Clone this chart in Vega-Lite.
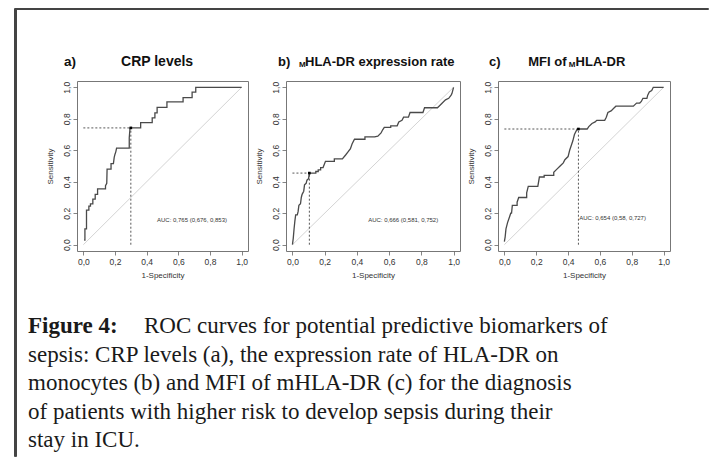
{
  "$schema": "https://vega.github.io/schema/vega-lite/v6.json",
  "background": "white",
  "padding": {"left": 13, "top": 7, "right": 0, "bottom": 0},
  "autosize": {"type": "pad"},
  "config": {
    "view": {"stroke": null},
    "axis": {"grid": false, "domain": false, "tickColor": "#666", "tickSize": 4, "tickWidth": 0.8, "labelFont": "Liberation Sans", "labelFontSize": 8.5, "labelColor": "#333", "labelPadding": 2, "titleFont": "Liberation Sans", "titleFontSize": 8, "titleFontWeight": "normal", "titleColor": "#333"},
    "axisX": {"titlePadding": 6},
    "axisY": {"labelAngle": 270, "labelAlign": "center", "labelBaseline": "bottom", "titlePadding": 8}
  },
  "datasets": {
    "diag": [{"fpr": 0, "sens": 0}, {"fpr": 1, "sens": 1}],
    "thr": [
      {"panel": "a", "fpr": 0.30, "sens": 0.742, "auc": "AUC: 0,765 (0,676, 0,853)"},
      {"panel": "b", "fpr": 0.105, "sens": 0.455, "auc": "AUC: 0,666 (0,581, 0,752)"},
      {"panel": "c", "fpr": 0.465, "sens": 0.735, "auc": "AUC: 0,654 (0,58, 0,727)"}
    ],
    "a": [
      {"i": 0, "fpr": 0.005, "sens": 0.03}, {"i": 1, "fpr": 0.01, "sens": 0.03}, {"i": 2, "fpr": 0.01, "sens": 0.10},
      {"i": 3, "fpr": 0.02, "sens": 0.10}, {"i": 4, "fpr": 0.02, "sens": 0.22}, {"i": 5, "fpr": 0.035, "sens": 0.22},
      {"i": 6, "fpr": 0.035, "sens": 0.245}, {"i": 7, "fpr": 0.045, "sens": 0.245}, {"i": 8, "fpr": 0.045, "sens": 0.26},
      {"i": 9, "fpr": 0.06, "sens": 0.26}, {"i": 10, "fpr": 0.06, "sens": 0.29}, {"i": 11, "fpr": 0.075, "sens": 0.29},
      {"i": 12, "fpr": 0.075, "sens": 0.32}, {"i": 13, "fpr": 0.09, "sens": 0.32}, {"i": 14, "fpr": 0.09, "sens": 0.355},
      {"i": 15, "fpr": 0.14, "sens": 0.355}, {"i": 16, "fpr": 0.14, "sens": 0.375}, {"i": 17, "fpr": 0.148, "sens": 0.39},
      {"i": 18, "fpr": 0.15, "sens": 0.48}, {"i": 19, "fpr": 0.175, "sens": 0.48}, {"i": 20, "fpr": 0.175, "sens": 0.515},
      {"i": 21, "fpr": 0.19, "sens": 0.515}, {"i": 22, "fpr": 0.195, "sens": 0.555}, {"i": 23, "fpr": 0.20, "sens": 0.575},
      {"i": 24, "fpr": 0.205, "sens": 0.59}, {"i": 25, "fpr": 0.21, "sens": 0.613}, {"i": 26, "fpr": 0.29, "sens": 0.613},
      {"i": 27, "fpr": 0.29, "sens": 0.68}, {"i": 28, "fpr": 0.295, "sens": 0.742}, {"i": 29, "fpr": 0.362, "sens": 0.742},
      {"i": 30, "fpr": 0.362, "sens": 0.775}, {"i": 31, "fpr": 0.435, "sens": 0.775}, {"i": 32, "fpr": 0.435, "sens": 0.806},
      {"i": 33, "fpr": 0.452, "sens": 0.806}, {"i": 34, "fpr": 0.452, "sens": 0.837}, {"i": 35, "fpr": 0.466, "sens": 0.837},
      {"i": 36, "fpr": 0.466, "sens": 0.872}, {"i": 37, "fpr": 0.528, "sens": 0.872}, {"i": 38, "fpr": 0.528, "sens": 0.907},
      {"i": 39, "fpr": 0.63, "sens": 0.907}, {"i": 40, "fpr": 0.63, "sens": 0.934}, {"i": 41, "fpr": 0.687, "sens": 0.934},
      {"i": 42, "fpr": 0.687, "sens": 0.969}, {"i": 43, "fpr": 0.71, "sens": 0.969}, {"i": 44, "fpr": 0.71, "sens": 1.0},
      {"i": 45, "fpr": 1.0, "sens": 1.0}
    ],
    "b": [
      {"i": 0, "fpr": 0.0, "sens": 0.0}, {"i": 1, "fpr": 0.005, "sens": 0.04}, {"i": 2, "fpr": 0.01, "sens": 0.10},
      {"i": 3, "fpr": 0.015, "sens": 0.15}, {"i": 4, "fpr": 0.02, "sens": 0.19}, {"i": 5, "fpr": 0.03, "sens": 0.19},
      {"i": 6, "fpr": 0.035, "sens": 0.21}, {"i": 7, "fpr": 0.04, "sens": 0.25}, {"i": 8, "fpr": 0.05, "sens": 0.26},
      {"i": 9, "fpr": 0.055, "sens": 0.30}, {"i": 10, "fpr": 0.06, "sens": 0.32}, {"i": 11, "fpr": 0.07, "sens": 0.34},
      {"i": 12, "fpr": 0.075, "sens": 0.38}, {"i": 13, "fpr": 0.085, "sens": 0.39}, {"i": 14, "fpr": 0.09, "sens": 0.41},
      {"i": 15, "fpr": 0.10, "sens": 0.42}, {"i": 16, "fpr": 0.105, "sens": 0.455}, {"i": 17, "fpr": 0.145, "sens": 0.455},
      {"i": 18, "fpr": 0.145, "sens": 0.465}, {"i": 19, "fpr": 0.16, "sens": 0.465}, {"i": 20, "fpr": 0.16, "sens": 0.475},
      {"i": 21, "fpr": 0.175, "sens": 0.475}, {"i": 22, "fpr": 0.175, "sens": 0.49}, {"i": 23, "fpr": 0.19, "sens": 0.49},
      {"i": 24, "fpr": 0.205, "sens": 0.53}, {"i": 25, "fpr": 0.26, "sens": 0.53}, {"i": 26, "fpr": 0.26, "sens": 0.545},
      {"i": 27, "fpr": 0.31, "sens": 0.545}, {"i": 28, "fpr": 0.33, "sens": 0.57}, {"i": 29, "fpr": 0.345, "sens": 0.59},
      {"i": 30, "fpr": 0.36, "sens": 0.61}, {"i": 31, "fpr": 0.37, "sens": 0.64}, {"i": 32, "fpr": 0.385, "sens": 0.67},
      {"i": 33, "fpr": 0.45, "sens": 0.67}, {"i": 34, "fpr": 0.45, "sens": 0.685}, {"i": 35, "fpr": 0.51, "sens": 0.685},
      {"i": 36, "fpr": 0.53, "sens": 0.69}, {"i": 37, "fpr": 0.55, "sens": 0.71}, {"i": 38, "fpr": 0.56, "sens": 0.73},
      {"i": 39, "fpr": 0.57, "sens": 0.745}, {"i": 40, "fpr": 0.61, "sens": 0.745}, {"i": 41, "fpr": 0.61, "sens": 0.755},
      {"i": 42, "fpr": 0.65, "sens": 0.755}, {"i": 43, "fpr": 0.66, "sens": 0.78}, {"i": 44, "fpr": 0.68, "sens": 0.79},
      {"i": 45, "fpr": 0.69, "sens": 0.81}, {"i": 46, "fpr": 0.72, "sens": 0.81}, {"i": 47, "fpr": 0.73, "sens": 0.84},
      {"i": 48, "fpr": 0.81, "sens": 0.84}, {"i": 49, "fpr": 0.82, "sens": 0.87}, {"i": 50, "fpr": 0.90, "sens": 0.87},
      {"i": 51, "fpr": 0.91, "sens": 0.88}, {"i": 52, "fpr": 0.93, "sens": 0.90}, {"i": 53, "fpr": 0.95, "sens": 0.92},
      {"i": 54, "fpr": 0.97, "sens": 0.93}, {"i": 55, "fpr": 0.985, "sens": 0.95}, {"i": 56, "fpr": 0.99, "sens": 0.96},
      {"i": 57, "fpr": 1.0, "sens": 1.0}
    ],
    "c": [
      {"i": 0, "fpr": 0.0, "sens": 0.02}, {"i": 1, "fpr": 0.005, "sens": 0.05}, {"i": 2, "fpr": 0.01, "sens": 0.10},
      {"i": 3, "fpr": 0.02, "sens": 0.14}, {"i": 4, "fpr": 0.03, "sens": 0.17}, {"i": 5, "fpr": 0.04, "sens": 0.20},
      {"i": 6, "fpr": 0.045, "sens": 0.20}, {"i": 7, "fpr": 0.05, "sens": 0.25}, {"i": 8, "fpr": 0.08, "sens": 0.25},
      {"i": 9, "fpr": 0.08, "sens": 0.27}, {"i": 10, "fpr": 0.09, "sens": 0.30}, {"i": 11, "fpr": 0.14, "sens": 0.30},
      {"i": 12, "fpr": 0.14, "sens": 0.33}, {"i": 13, "fpr": 0.15, "sens": 0.37}, {"i": 14, "fpr": 0.21, "sens": 0.37},
      {"i": 15, "fpr": 0.22, "sens": 0.43}, {"i": 16, "fpr": 0.25, "sens": 0.43}, {"i": 17, "fpr": 0.25, "sens": 0.44},
      {"i": 18, "fpr": 0.31, "sens": 0.44}, {"i": 19, "fpr": 0.31, "sens": 0.46}, {"i": 20, "fpr": 0.33, "sens": 0.48},
      {"i": 21, "fpr": 0.35, "sens": 0.50}, {"i": 22, "fpr": 0.37, "sens": 0.52}, {"i": 23, "fpr": 0.38, "sens": 0.54},
      {"i": 24, "fpr": 0.40, "sens": 0.56}, {"i": 25, "fpr": 0.41, "sens": 0.60}, {"i": 26, "fpr": 0.42, "sens": 0.63},
      {"i": 27, "fpr": 0.43, "sens": 0.66}, {"i": 28, "fpr": 0.44, "sens": 0.70}, {"i": 29, "fpr": 0.455, "sens": 0.73},
      {"i": 30, "fpr": 0.465, "sens": 0.735}, {"i": 31, "fpr": 0.52, "sens": 0.735}, {"i": 32, "fpr": 0.53, "sens": 0.75},
      {"i": 33, "fpr": 0.55, "sens": 0.77}, {"i": 34, "fpr": 0.57, "sens": 0.78}, {"i": 35, "fpr": 0.58, "sens": 0.79},
      {"i": 36, "fpr": 0.63, "sens": 0.79}, {"i": 37, "fpr": 0.64, "sens": 0.81}, {"i": 38, "fpr": 0.65, "sens": 0.84},
      {"i": 39, "fpr": 0.67, "sens": 0.85}, {"i": 40, "fpr": 0.69, "sens": 0.87}, {"i": 41, "fpr": 0.70, "sens": 0.88},
      {"i": 42, "fpr": 0.81, "sens": 0.88}, {"i": 43, "fpr": 0.82, "sens": 0.89}, {"i": 44, "fpr": 0.83, "sens": 0.90},
      {"i": 45, "fpr": 0.85, "sens": 0.90}, {"i": 46, "fpr": 0.86, "sens": 0.91}, {"i": 47, "fpr": 0.87, "sens": 0.93},
      {"i": 48, "fpr": 0.895, "sens": 0.93}, {"i": 49, "fpr": 0.90, "sens": 0.95}, {"i": 50, "fpr": 0.91, "sens": 0.97},
      {"i": 51, "fpr": 0.925, "sens": 0.98}, {"i": 52, "fpr": 0.935, "sens": 1.0}, {"i": 53, "fpr": 1.0, "sens": 1.0}
    ],
    "caption": [
      {"line": 1, "part": "label", "text": "Figure 4:"},
      {"line": 1, "part": "first", "text": "ROC curves for potential predictive biomarkers of"},
      {"line": 2, "part": "body", "text": "sepsis: CRP levels (a), the expression rate of HLA-DR on"},
      {"line": 3, "part": "body", "text": "monocytes (b) and MFI of mHLA-DR (c) for the diagnosis"},
      {"line": 4, "part": "body", "text": "of patients with higher risk to develop sepsis during their"},
      {"line": 5, "part": "body", "text": "stay in ICU."}
    ]
  },
  "spacing": 0,
  "bounds": "flush",
  "hconcat": [
    {"data": {"values": [{}]}, "mark": {"type": "text", "text": "", "fontSize": 0}, "width": 1, "height": 448, "view": {"stroke": "#444", "strokeWidth": 1}},
    {
      "spacing": 0,
      "bounds": "flush",
      "vconcat": [
        {"data": {"values": [{}]}, "mark": {"type": "text", "text": "", "fontSize": 0}, "width": 693, "height": 1, "view": {"stroke": "#444", "strokeWidth": 1}},
        {"data": {"values": [{}]}, "mark": {"type": "text", "text": "", "fontSize": 0}, "width": 10, "height": 72},
        {
          "spacing": 38,
          "bounds": "flush",
          "hconcat": [
            {"data": {"values": [{}]}, "mark": {"type": "text", "text": "", "fontSize": 0}, "width": 24, "height": 170},
            {
              "width": 171, "height": 170,
              "view": {"stroke": "#777", "strokeWidth": 1},
              "data": {"name": "a"},
              "encoding": {
                "x": {"field": "fpr", "type": "quantitative", "scale": {"domain": [-0.04, 1.04], "nice": false, "zero": false}, "axis": {"title": "1-Specificity", "values": [0, 0.2, 0.4, 0.6, 0.8, 1], "labelExpr": "replace(format(datum.value, '.1f'), '.', ',')"}},
                "y": {"field": "sens", "type": "quantitative", "scale": {"domain": [-0.04, 1.04], "nice": false, "zero": false}, "axis": {"title": "Sensitivity", "values": [0, 0.2, 0.4, 0.6, 0.8, 1], "labelExpr": "replace(format(datum.value, '.1f'), '.', ',')"}}
              },
              "layer": [
                {"data": {"name": "diag"}, "mark": {"type": "line", "color": "#d4d4d4", "strokeWidth": 1}},
                {"mark": {"type": "line", "color": "#4a4a4a", "strokeWidth": 1.3}, "encoding": {"order": {"field": "i", "type": "quantitative"}}},
                {"data": {"name": "thr"}, "transform": [{"filter": "datum.panel == 'a'"}], "mark": {"type": "rule", "color": "#444", "strokeWidth": 0.9, "strokeDash": [2, 2]}, "encoding": {"x": {"datum": 0, "type": "quantitative"}, "x2": {"field": "fpr"}}},
                {"data": {"name": "thr"}, "transform": [{"filter": "datum.panel == 'a'"}], "mark": {"type": "rule", "color": "#444", "strokeWidth": 0.9, "strokeDash": [2, 2]}, "encoding": {"y": {"datum": 0, "type": "quantitative"}, "y2": {"field": "sens"}}},
                {"data": {"name": "thr"}, "transform": [{"filter": "datum.panel == 'a'"}], "mark": {"type": "square", "color": "#000", "size": 7, "opacity": 1}},
                {"data": {"name": "thr"}, "transform": [{"filter": "datum.panel == 'a'"}], "mark": {"type": "text", "align": "left", "baseline": "middle", "font": "Liberation Sans", "fontSize": 6, "color": "#333"}, "encoding": {"x": {"datum": 0.465, "type": "quantitative"}, "y": {"datum": 0.155, "type": "quantitative"}, "text": {"field": "auc"}}},
                {"data": {"name": "thr"}, "transform": [{"filter": "datum.panel == 'a'"}], "mark": {"type": "text", "text": "a)", "align": "left", "baseline": "middle", "font": "Liberation Sans", "fontSize": 13.5, "fontWeight": "bold", "color": "#111"}, "encoding": {"x": {"datum": -0.122, "type": "quantitative"}, "y": {"datum": 1.163, "type": "quantitative"}}},
                {"data": {"name": "thr"}, "transform": [{"filter": "datum.panel == 'a'"}], "mark": {"type": "text", "text": "CRP levels", "align": "left", "baseline": "middle", "font": "Liberation Sans", "fontSize": 14, "fontWeight": "bold", "color": "#111"}, "encoding": {"x": {"datum": 0.238, "type": "quantitative"}, "y": {"datum": 1.163, "type": "quantitative"}}}
              ]
            },
            {
              "width": 174, "height": 170,
              "view": {"stroke": "#777", "strokeWidth": 1},
              "data": {"name": "b"},
              "encoding": {
                "x": {"field": "fpr", "type": "quantitative", "scale": {"domain": [-0.04, 1.04], "nice": false, "zero": false}, "axis": {"title": "1-Specificity", "values": [0, 0.2, 0.4, 0.6, 0.8, 1], "labelExpr": "replace(format(datum.value, '.1f'), '.', ',')"}},
                "y": {"field": "sens", "type": "quantitative", "scale": {"domain": [-0.04, 1.04], "nice": false, "zero": false}, "axis": {"title": "Sensitivity", "values": [0, 0.2, 0.4, 0.6, 0.8, 1], "labelExpr": "replace(format(datum.value, '.1f'), '.', ',')"}}
              },
              "layer": [
                {"data": {"name": "diag"}, "mark": {"type": "line", "color": "#d4d4d4", "strokeWidth": 1}},
                {"mark": {"type": "line", "color": "#4a4a4a", "strokeWidth": 1.3}, "encoding": {"order": {"field": "i", "type": "quantitative"}}},
                {"data": {"name": "thr"}, "transform": [{"filter": "datum.panel == 'b'"}], "mark": {"type": "rule", "color": "#444", "strokeWidth": 0.9, "strokeDash": [2, 2]}, "encoding": {"x": {"datum": 0, "type": "quantitative"}, "x2": {"field": "fpr"}}},
                {"data": {"name": "thr"}, "transform": [{"filter": "datum.panel == 'b'"}], "mark": {"type": "rule", "color": "#444", "strokeWidth": 0.9, "strokeDash": [2, 2]}, "encoding": {"y": {"datum": 0, "type": "quantitative"}, "y2": {"field": "sens"}}},
                {"data": {"name": "thr"}, "transform": [{"filter": "datum.panel == 'b'"}], "mark": {"type": "square", "color": "#000", "size": 7, "opacity": 1}},
                {"data": {"name": "thr"}, "transform": [{"filter": "datum.panel == 'b'"}], "mark": {"type": "text", "align": "left", "baseline": "middle", "font": "Liberation Sans", "fontSize": 6, "color": "#333"}, "encoding": {"x": {"datum": 0.47, "type": "quantitative"}, "y": {"datum": 0.155, "type": "quantitative"}, "text": {"field": "auc"}}},
                {"data": {"name": "thr"}, "transform": [{"filter": "datum.panel == 'b'"}], "mark": {"type": "text", "text": "b)", "align": "left", "baseline": "middle", "font": "Liberation Sans", "fontSize": 13, "fontWeight": "bold", "color": "#111"}, "encoding": {"x": {"datum": -0.09, "type": "quantitative"}, "y": {"datum": 1.163, "type": "quantitative"}}},
                {"data": {"name": "thr"}, "transform": [{"filter": "datum.panel == 'b'"}], "mark": {"type": "text", "text": "M", "align": "left", "baseline": "middle", "font": "Liberation Sans", "fontSize": 8, "fontWeight": "bold", "color": "#111"}, "encoding": {"x": {"datum": 0.041, "type": "quantitative"}, "y": {"datum": 1.14, "type": "quantitative"}}},
                {"data": {"name": "thr"}, "transform": [{"filter": "datum.panel == 'b'"}], "mark": {"type": "text", "text": "HLA-DR expression rate", "align": "left", "baseline": "middle", "font": "Liberation Sans", "fontSize": 13, "fontWeight": "bold", "color": "#111"}, "encoding": {"x": {"datum": 0.078, "type": "quantitative"}, "y": {"datum": 1.163, "type": "quantitative"}}}
              ]
            },
            {
              "width": 172, "height": 170,
              "view": {"stroke": "#777", "strokeWidth": 1},
              "data": {"name": "c"},
              "encoding": {
                "x": {"field": "fpr", "type": "quantitative", "scale": {"domain": [-0.04, 1.04], "nice": false, "zero": false}, "axis": {"title": "1-Specificity", "values": [0, 0.2, 0.4, 0.6, 0.8, 1], "labelExpr": "replace(format(datum.value, '.1f'), '.', ',')"}},
                "y": {"field": "sens", "type": "quantitative", "scale": {"domain": [-0.04, 1.04], "nice": false, "zero": false}, "axis": {"title": "Sensitivity", "values": [0, 0.2, 0.4, 0.6, 0.8, 1], "labelExpr": "replace(format(datum.value, '.1f'), '.', ',')"}}
              },
              "layer": [
                {"data": {"name": "diag"}, "mark": {"type": "line", "color": "#d4d4d4", "strokeWidth": 1}},
                {"mark": {"type": "line", "color": "#4a4a4a", "strokeWidth": 1.3}, "encoding": {"order": {"field": "i", "type": "quantitative"}}},
                {"data": {"name": "thr"}, "transform": [{"filter": "datum.panel == 'c'"}], "mark": {"type": "rule", "color": "#444", "strokeWidth": 0.9, "strokeDash": [2, 2]}, "encoding": {"x": {"datum": 0, "type": "quantitative"}, "x2": {"field": "fpr"}}},
                {"data": {"name": "thr"}, "transform": [{"filter": "datum.panel == 'c'"}], "mark": {"type": "rule", "color": "#444", "strokeWidth": 0.9, "strokeDash": [2, 2]}, "encoding": {"y": {"datum": 0, "type": "quantitative"}, "y2": {"field": "sens"}}},
                {"data": {"name": "thr"}, "transform": [{"filter": "datum.panel == 'c'"}], "mark": {"type": "square", "color": "#000", "size": 7, "opacity": 1}},
                {"data": {"name": "thr"}, "transform": [{"filter": "datum.panel == 'c'"}], "mark": {"type": "text", "align": "left", "baseline": "middle", "font": "Liberation Sans", "fontSize": 6, "color": "#333"}, "encoding": {"x": {"datum": 0.47, "type": "quantitative"}, "y": {"datum": 0.17, "type": "quantitative"}, "text": {"field": "auc"}}},
                {"data": {"name": "thr"}, "transform": [{"filter": "datum.panel == 'c'"}], "mark": {"type": "text", "text": "c)", "align": "left", "baseline": "middle", "font": "Liberation Sans", "fontSize": 13, "fontWeight": "bold", "color": "#111"}, "encoding": {"x": {"datum": -0.097, "type": "quantitative"}, "y": {"datum": 1.163, "type": "quantitative"}}},
                {"data": {"name": "thr"}, "transform": [{"filter": "datum.panel == 'c'"}], "mark": {"type": "text", "text": "MFI of", "align": "left", "baseline": "middle", "font": "Liberation Sans", "fontSize": 13, "fontWeight": "bold", "color": "#111"}, "encoding": {"x": {"datum": 0.15, "type": "quantitative"}, "y": {"datum": 1.163, "type": "quantitative"}}},
                {"data": {"name": "thr"}, "transform": [{"filter": "datum.panel == 'c'"}], "mark": {"type": "text", "text": "M", "align": "left", "baseline": "middle", "font": "Liberation Sans", "fontSize": 8, "fontWeight": "bold", "color": "#111"}, "encoding": {"x": {"datum": 0.405, "type": "quantitative"}, "y": {"datum": 1.14, "type": "quantitative"}}},
                {"data": {"name": "thr"}, "transform": [{"filter": "datum.panel == 'c'"}], "mark": {"type": "text", "text": "HLA-DR", "align": "left", "baseline": "middle", "font": "Liberation Sans", "fontSize": 13, "fontWeight": "bold", "color": "#111"}, "encoding": {"x": {"datum": 0.447, "type": "quantitative"}, "y": {"datum": 1.163, "type": "quantitative"}}}
              ]
            }
          ]
        },
        {"data": {"values": [{}]}, "mark": {"type": "text", "text": "", "fontSize": 0}, "width": 10, "height": 242},
        {
          "width": 680, "height": 126,
          "data": {"name": "caption"},
          "encoding": {
            "x": {"value": 13},
            "y": {"field": "line", "type": "quantitative", "scale": {"domain": [0.649, 5.07], "reverse": true, "nice": false, "zero": false}, "axis": null},
            "text": {"field": "text"}
          },
          "layer": [
            {"transform": [{"filter": "datum.part == 'label'"}], "mark": {"type": "text", "align": "left", "baseline": "alphabetic", "font": "Liberation Serif", "fontSize": 23, "fontWeight": "bold", "color": "#1a1a1a"}},
            {"transform": [{"filter": "datum.part == 'first'"}], "mark": {"type": "text", "align": "left", "baseline": "alphabetic", "font": "Liberation Serif", "fontSize": 23, "dx": 116, "color": "#1a1a1a"}},
            {"transform": [{"filter": "datum.part == 'body'"}], "mark": {"type": "text", "align": "left", "baseline": "alphabetic", "font": "Liberation Serif", "fontSize": 23, "color": "#1a1a1a"}}
          ]
        }
      ]
    },
    {"data": {"values": [{}]}, "mark": {"type": "text", "text": "", "fontSize": 0}, "width": 1, "height": 448, "view": {"stroke": "#444", "strokeWidth": 1}}
  ]
}
